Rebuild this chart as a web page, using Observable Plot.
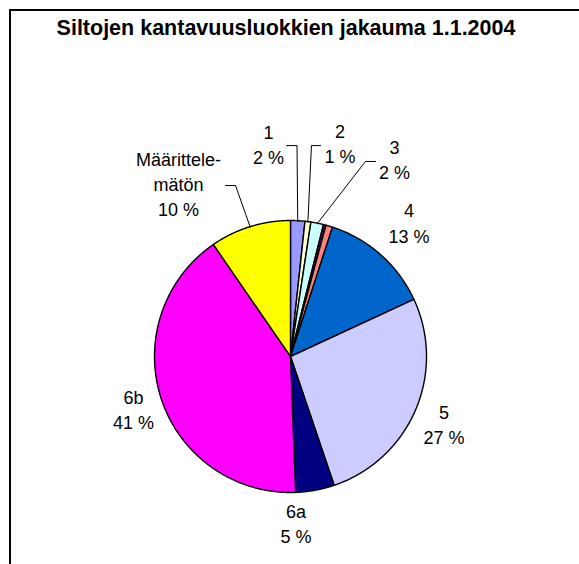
<!DOCTYPE html>
<html><head><meta charset="utf-8">
<script src="https://cdn.jsdelivr.net/npm/d3@7"></script>
<script src="https://cdn.jsdelivr.net/npm/@observablehq/plot@0.6"></script>
<style>
html,body{margin:0;padding:0;background:#fff;}
#wrap{position:relative;width:579px;height:564px;overflow:hidden;}
#frame{position:absolute;left:9px;top:9px;width:800px;height:800px;border-top:2px solid #000;border-left:2px solid #000;}
#chart{position:absolute;left:0;top:0;}
</style></head><body>
<div id="wrap"><div id="frame"></div><div id="chart"></div></div>
<script>
// ---- data ----
const title = "Siltojen kantavuusluokkien jakauma 1.1.2004";
const categories = ["1", "2", "3", "", "", "4", "5", "6a", "6b", "Määrittele-\nmätön"];
const values = [1.7, 0.7, 1.5, 0.3, 0.8, 13.1, 26.7, 4.6, 41.0, 9.6];
const colors = ["#9999FF", "#FFFFCC", "#CCFFFF", "#660066", "#FF8080", "#0066CC", "#CCCCFF", "#000080", "#FF00FF", "#FFFF00"];

// ---- layout (label centres and leader elbows, in pie radii from the centre) ----
const labelAt = [[-0.162, 1.566], [0.364, 1.574], [0.765, 1.456], null, null,
  [0.871, 0.989], [1.129, -0.489], [0.040, -1.221], [-1.154, -0.382], [-0.824, 1.279]];
const leaders = {0: [[0.048, 1.551], [-0.029, 1.551]], 1: [[0.154, 1.551], [0.221, 1.551]],
  2: [[0.551, 1.434], [0.625, 1.434]], 9: [[-0.404, 1.257], [-0.478, 1.257]]};

const W = 579, H = 564, R = 136, CX = 290, CY = 356;

const arcs = d3.pie().sort(null).startAngle(0).endAngle(2 * Math.PI)(values);
const total = d3.sum(values);

const slicePts = [];
arcs.forEach((a, i) => {
  const n = Math.max(4, Math.ceil((a.endAngle - a.startAngle) / (Math.PI / 720)));
  slicePts.push({key: i, x: 0, y: 0, color: colors[i]});
  for (let k = 0; k <= n; k++) {
    const t = a.startAngle + (a.endAngle - a.startAngle) * k / n;
    slicePts.push({key: i, x: Math.sin(t), y: Math.cos(t), color: colors[i]});
  }
  slicePts.push({key: i, x: 0, y: 0, color: colors[i]});
});

const leaderPts = [];
Object.entries(leaders).forEach(([i, [elbow, end]]) => {
  const a = arcs[+i];
  const m = (a.startAngle + a.endAngle) / 2;
  leaderPts.push({key: i, x: Math.sin(m) * 0.995, y: Math.cos(m) * 0.995});
  leaderPts.push({key: i, x: elbow[0], y: elbow[1]});
  leaderPts.push({key: i, x: end[0], y: end[1]});
});

const labelRows = categories.map((c, i) => labelAt[i] ? {
  x: labelAt[i][0], y: labelAt[i][1],
  text: c + "\n" + Math.round(values[i] / total * 100) + " %"
} : null).filter(Boolean);

const font = "'Liberation Sans', Arial, sans-serif";

const chart = Plot.plot({
  width: W, height: H,
  marginTop: 0, marginRight: 0, marginBottom: 0, marginLeft: 0,
  x: {domain: [-CX / R, (W - CX) / R], axis: null},
  y: {domain: [-(H - CY) / R, CY / R], axis: null},
  color: {type: "identity"},
  style: {background: "transparent", overflow: "visible", fontFamily: font},
  marks: [
    Plot.line(slicePts, {x: "x", y: "y", z: "key", fill: "color", stroke: "#000", strokeWidth: 1.4, strokeLinejoin: "round", curve: "linear"}),
    Plot.line(leaderPts, {x: "x", y: "y", z: "key", stroke: "#000", strokeWidth: 1, curve: "linear"}),
    Plot.text(labelRows, {x: "x", y: "y", text: "text", fontSize: 18, lineHeight: 1.39, fill: "#000", fontFamily: font}),
    Plot.text([title], {text: d => d, frameAnchor: "top", dx: -4, dy: 19, fontSize: 21.5, fontWeight: "bold", fill: "#000", fontFamily: font})
  ]
});
document.getElementById("chart").appendChild(chart);
</script>
</body></html>
